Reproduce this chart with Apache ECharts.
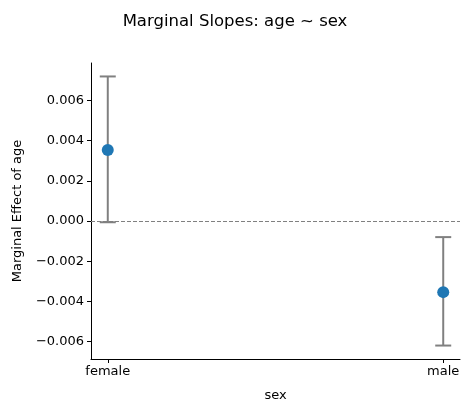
<!DOCTYPE html>
<html>
<head>
<meta charset="utf-8">
<script src="https://cdn.jsdelivr.net/npm/echarts@6/dist/echarts.min.js"></script>
<style>html,body{margin:0;padding:0;background:#fff}#c{width:470px;height:413px}</style>
</head>
<body>
<div id="c"></div>
<script>
var categories = ['female', 'male'];
var estimates = [0.00354, -0.00354];
var lowerCI = [-0.00006, -0.0062];
var upperCI = [0.0072, -0.0008];
var yTicks = [-0.006, -0.004, -0.002, 0, 0.002, 0.004, 0.006];

var FONT = 'DejaVu Sans';
var chart = echarts.init(document.getElementById('c'));
var idx = categories.map(function (c, i) { return i; });
var errData = idx.map(function (i) { return [i, lowerCI[i], upperCI[i]]; });
var ptData = idx.map(function (i) { return [i, estimates[i]]; });

function fmt(v) {
  var s = Math.abs(v).toFixed(3);
  return (v < -1e-12 ? '\u2212' : '') + s;
}

chart.setOption({
  animation: false,
  title: {
    text: 'Marginal Slopes: age ~ sex',
    left: 'center', top: 8,
    textStyle: { fontFamily: FONT, fontSize: 16.5, fontWeight: 'normal', color: '#000' }
  },
  grid: { left: 91, right: 10, top: 63, bottom: 54, containLabel: false, outerBoundsMode: 'none' },
  xAxis: {
    type: 'value', min: -0.05, max: 1.05,
    name: 'sex', nameLocation: 'middle', nameGap: 30,
    nameTextStyle: { fontFamily: FONT, fontSize: 13, color: '#000' },
    axisLine: { show: true, onZero: false, lineStyle: { color: '#000', width: 1 } },
    axisTick: { show: true, length: 4, lineStyle: { color: '#000' }, customValues: idx },
    axisLabel: {
      fontFamily: FONT, fontSize: 13, color: '#000', margin: 6,
      customValues: idx,
      formatter: function (v) { return categories[Math.round(v)]; }
    },
    splitLine: { show: false }
  },
  yAxis: {
    type: 'value', min: -0.00687, max: 0.00787,
    name: 'Marginal Effect of age', nameLocation: 'middle', nameGap: 67,
    nameTextStyle: { fontFamily: FONT, fontSize: 13, color: '#000' },
    axisLine: { show: true, onZero: false, lineStyle: { color: '#000', width: 1 } },
    axisTick: { show: true, length: 4, lineStyle: { color: '#000' }, customValues: yTicks },
    axisLabel: {
      fontFamily: FONT, fontSize: 13, color: '#000', margin: 7,
      customValues: yTicks, formatter: fmt
    },
    splitLine: { show: false }
  },
  series: [
    {
      type: 'custom',
      data: errData,
      z: 2,
      renderItem: function (params, api) {
        var x = api.value(0);
        var lo = api.coord([x, api.value(1)]);
        var hi = api.coord([x, api.value(2)]);
        var cw = 8;
        var st = { stroke: '#808080', lineWidth: 2 };
        return {
          type: 'group',
          children: [
            { type: 'line', shape: { x1: lo[0], y1: lo[1], x2: hi[0], y2: hi[1] }, style: st },
            { type: 'line', shape: { x1: hi[0] - cw, y1: hi[1], x2: hi[0] + cw, y2: hi[1] }, style: st },
            { type: 'line', shape: { x1: lo[0] - cw, y1: lo[1], x2: lo[0] + cw, y2: lo[1] }, style: st }
          ]
        };
      }
    },
    {
      type: 'scatter',
      data: ptData,
      symbolSize: 12,
      z: 3,
      itemStyle: { color: '#1f77b4', opacity: 1 },
      markLine: {
        silent: true, symbol: 'none', z: 1,
        label: { show: false },
        lineStyle: { color: '#808080', type: [4, 2], width: 1 },
        data: [{ yAxis: 0 }]
      }
    }
  ]
});
</script>
</body>
</html>
